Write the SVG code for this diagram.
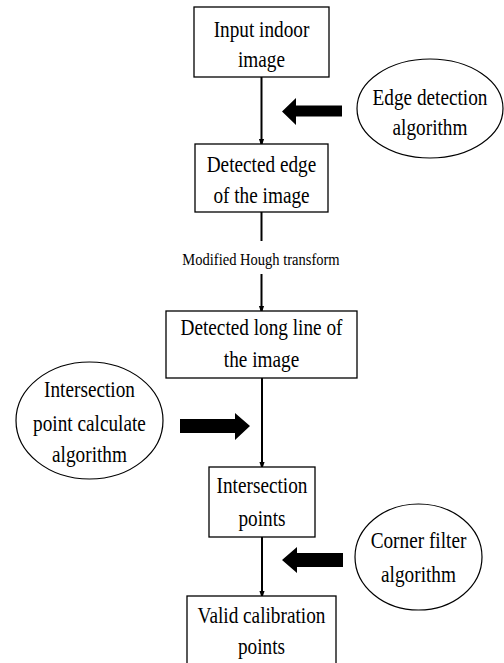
<svg xmlns="http://www.w3.org/2000/svg" width="504" height="663" viewBox="0 0 504 663">
<style>
.box{fill:#fff;stroke:#000;stroke-width:1.3}
.ell{fill:#fff;stroke:#000;stroke-width:1.2}
.t{font-family:"Liberation Serif","Times New Roman",serif;font-size:23.5px;text-anchor:middle;fill:#000}
.s{font-family:"Liberation Serif","Times New Roman",serif;font-size:17.5px;text-anchor:middle;fill:#000}
.ln{stroke:#000;stroke-width:2;fill:none}
.big{fill:#000}
</style>
<defs>
<marker id="ah" markerWidth="8" markerHeight="12" refX="8" refY="4" orient="auto" markerUnits="userSpaceOnUse" viewBox="0 0 12 8">
<path d="M0,0 L12,4 L0,8 Z" fill="#000"/>
</marker>
</defs>
<rect width="504" height="663" fill="#fff"/>
<g id="connectors">
<line class="ln" x1="261.5" y1="77" x2="261.5" y2="144" marker-end="url(#ah)"/>
<line class="ln" x1="261.5" y1="212" x2="261.5" y2="241"/>
<text class="s" transform="translate(261,265) scale(0.83,1)">Modified Hough transform</text>
<line class="ln" x1="261.5" y1="274" x2="261.5" y2="311" marker-end="url(#ah)"/>
<line class="ln" x1="262" y1="378" x2="262" y2="467" marker-end="url(#ah)"/>
<line class="ln" x1="262" y1="537" x2="262" y2="596" marker-end="url(#ah)"/>
<path class="big" d="M342,105.5 L296,105.5 L296,98 L282,111.5 L296,125 L296,116.5 L342,116.5 Z"/>
<path class="big" d="M180,419 L235,419 L235,413 L250,426 L235,440 L235,433 L180,433 Z"/>
<path class="big" d="M343,553 L297,553 L297,547 L282,560 L297,573 L297,567 L343,567 Z"/>
</g>
<g id="n1">
<rect class="box" x="194" y="7" width="135" height="70"/>
<text class="t" transform="translate(261.5,37) scale(0.82,1)">Input indoor</text>
<text class="t" transform="translate(261.5,67) scale(0.82,1)">image</text>
</g>
<g id="n2">
<rect class="box" x="195" y="144" width="133" height="68"/>
<text class="t" transform="translate(261.5,172) scale(0.82,1)">Detected edge</text>
<text class="t" transform="translate(261.5,203) scale(0.82,1)">of the image</text>
</g>
<g id="n3">
<rect class="box" x="166" y="311" width="191" height="67"/>
<text class="t" transform="translate(261.5,335) scale(0.82,1)">Detected long line of</text>
<text class="t" transform="translate(261.5,367) scale(0.82,1)">the image</text>
</g>
<g id="n4">
<rect class="box" x="209" y="467" width="106" height="70"/>
<text class="t" transform="translate(262,493) scale(0.82,1)">Intersection</text>
<text class="t" transform="translate(262,526) scale(0.82,1)">points</text>
</g>
<g id="n5">
<rect class="box" x="187" y="596" width="149" height="80"/>
<text class="t" transform="translate(261.5,623) scale(0.82,1)">Valid calibration</text>
<text class="t" transform="translate(261.5,654) scale(0.82,1)">points</text>
</g>
<g id="e1">
<ellipse class="ell" cx="430" cy="108.5" rx="73" ry="49.5"/>
<text class="t" transform="translate(430,105) scale(0.82,1)">Edge detection</text>
<text class="t" transform="translate(430,135) scale(0.82,1)">algorithm</text>
</g>
<g id="e2">
<ellipse class="ell" cx="89.5" cy="420.5" rx="73.5" ry="58.5"/>
<text class="t" transform="translate(89.5,397) scale(0.82,1)">Intersection</text>
<text class="t" transform="translate(89.5,431) scale(0.82,1)">point calculate</text>
<text class="t" transform="translate(89.5,462) scale(0.82,1)">algorithm</text>
</g>
<g id="e3">
<ellipse class="ell" cx="418.5" cy="557" rx="63.5" ry="53"/>
<text class="t" transform="translate(418.5,548) scale(0.82,1)">Corner filter</text>
<text class="t" transform="translate(418.5,582) scale(0.82,1)">algorithm</text>
</g>
</svg>
